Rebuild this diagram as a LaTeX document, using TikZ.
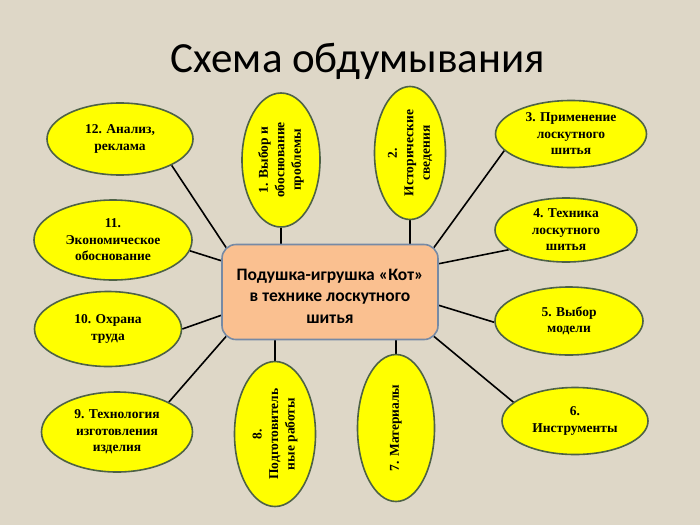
\documentclass[tikz,border=0pt]{standalone}
\usepackage{fontspec}
\setmainfont{Liberation Serif}
\newfontfamily\carlito{Carlito}
\usetikzlibrary{shapes.geometric,calc}
\definecolor{bgc}{RGB}{222,215,199}
\definecolor{ellfill}{RGB}{255,255,0}
\definecolor{elldraw}{RGB}{78,98,70}
\definecolor{boxfill}{RGB}{250,192,144}
\definecolor{boxdraw}{RGB}{118,138,165}
\pgfdeclarelayer{bg}
\pgfdeclarelayer{lines}
\pgfsetlayers{bg,lines,main}
\tikzset{
  ell/.style={ellipse, draw=elldraw, fill=ellfill, line width=1.6pt, inner sep=0pt,
    align=center, font=\fontsize{13.5}{16.5}\selectfont\bfseries},
  centralbox/.style={rectangle, rounded corners=14pt, draw=boxdraw, fill=boxfill,
    line width=1.6pt, inner sep=0pt},
  boxtext/.style={align=center, inner sep=0pt,
    font=\carlito\fontsize{17.5}{21.5}\selectfont\bfseries},
  conn/.style={line width=1.6pt, black}
}
\begin{document}
\begin{tikzpicture}[x=1pt,y=-1pt]
\begin{pgfonlayer}{bg}
\fill[bgc] (0,0) rectangle (700,525);
\end{pgfonlayer}
\useasboundingbox (0,0) rectangle (700,525);
\node[anchor=base, font=\carlito\fontsize{43}{50}\selectfont] (title) at (358,72) {Схема обдумывания};

\node[centralbox, minimum width=216pt, minimum height=95pt] (box) at (330,292) {};
\node[boxtext] (boxlabel) at (330,296)
  {Подушка-игрушка «Кот»\\в технике лоскутного\\шитья};

\node[ell, rotate=90, minimum width=134pt, minimum height=78pt] (e1) at (281,160)
  {1. Выбор и\\обоснование\\проблемы};
\node[ell, rotate=90, minimum width=133pt, minimum height=71pt] (e2) at (410,153)
  {2.\\Исторические\\сведения};
\node[ell, minimum width=151pt, minimum height=67pt] (e3) at (571,134)
  {3. Применение\\лоскутного\\шитья};
\node[ell, minimum width=142pt, minimum height=64pt] (e4) at (566,230)
  {4. Техника\\лоскутного\\шитья};
\node[ell, minimum width=148pt, minimum height=68pt] (e5) at (569,321)
  {5. Выбор\\модели};
\node[ell, minimum width=146pt, minimum height=67pt] (e6) at (575,421)
  {6.\\Инструменты};
\node[ell, rotate=90, minimum width=147pt, minimum height=77pt] (e7) at (396,428)
  {7. Материалы};
\node[ell, rotate=90, minimum width=145pt, minimum height=81pt] (e8) at (275,434)
  {8.\\Подготовитель\\ные работы};
\node[ell, minimum width=151pt, minimum height=80pt] (e9) at (117,432)
  {9. Технология\\изготовления\\изделия};
\node[ell, minimum width=147pt, minimum height=75pt] (e10) at (108,329)
  {10. Охрана\\труда};
\node[ell, minimum width=158pt, minimum height=80pt] (e11) at (113,240)
  {11.\\Экономическое\\обоснование};
\node[ell, minimum width=146pt, minimum height=72pt] (e12) at (120,139)
  {12. Анализ,\\реклама};

\begin{pgfonlayer}{lines}
\draw[conn] (e1.west) -- (e1.west |- box.north);
\draw[conn] (e2.west) -- (e2.west |- box.north);
\draw[conn] (e3.194) -- ($(box.north east)+(-5,4)$);
\draw[conn] (e4.199) -- ($(box.north east)+(0,20)$);
\draw[conn] (e5.181) -- ($(box.south east)+(0,-35)$);
\draw[conn] (e6.163) -- ($(box.south east)+(-5,-4)$);
\draw[conn] (e7.east) -- (e7.east |- box.south);
\draw[conn] (e8.east) -- (e8.east |- box.south);
\draw[conn] (e9.30) -- ($(box.south west)+(5,-4)$);
\draw[conn] (e10.0) -- ($(box.south west)+(0,-25)$);
\draw[conn] (e11.-8) -- ($(box.north west)+(0,17)$);
\draw[conn] (e12.-27) -- ($(box.north west)+(5,4)$);
\end{pgfonlayer}
\end{tikzpicture}
\end{document}
